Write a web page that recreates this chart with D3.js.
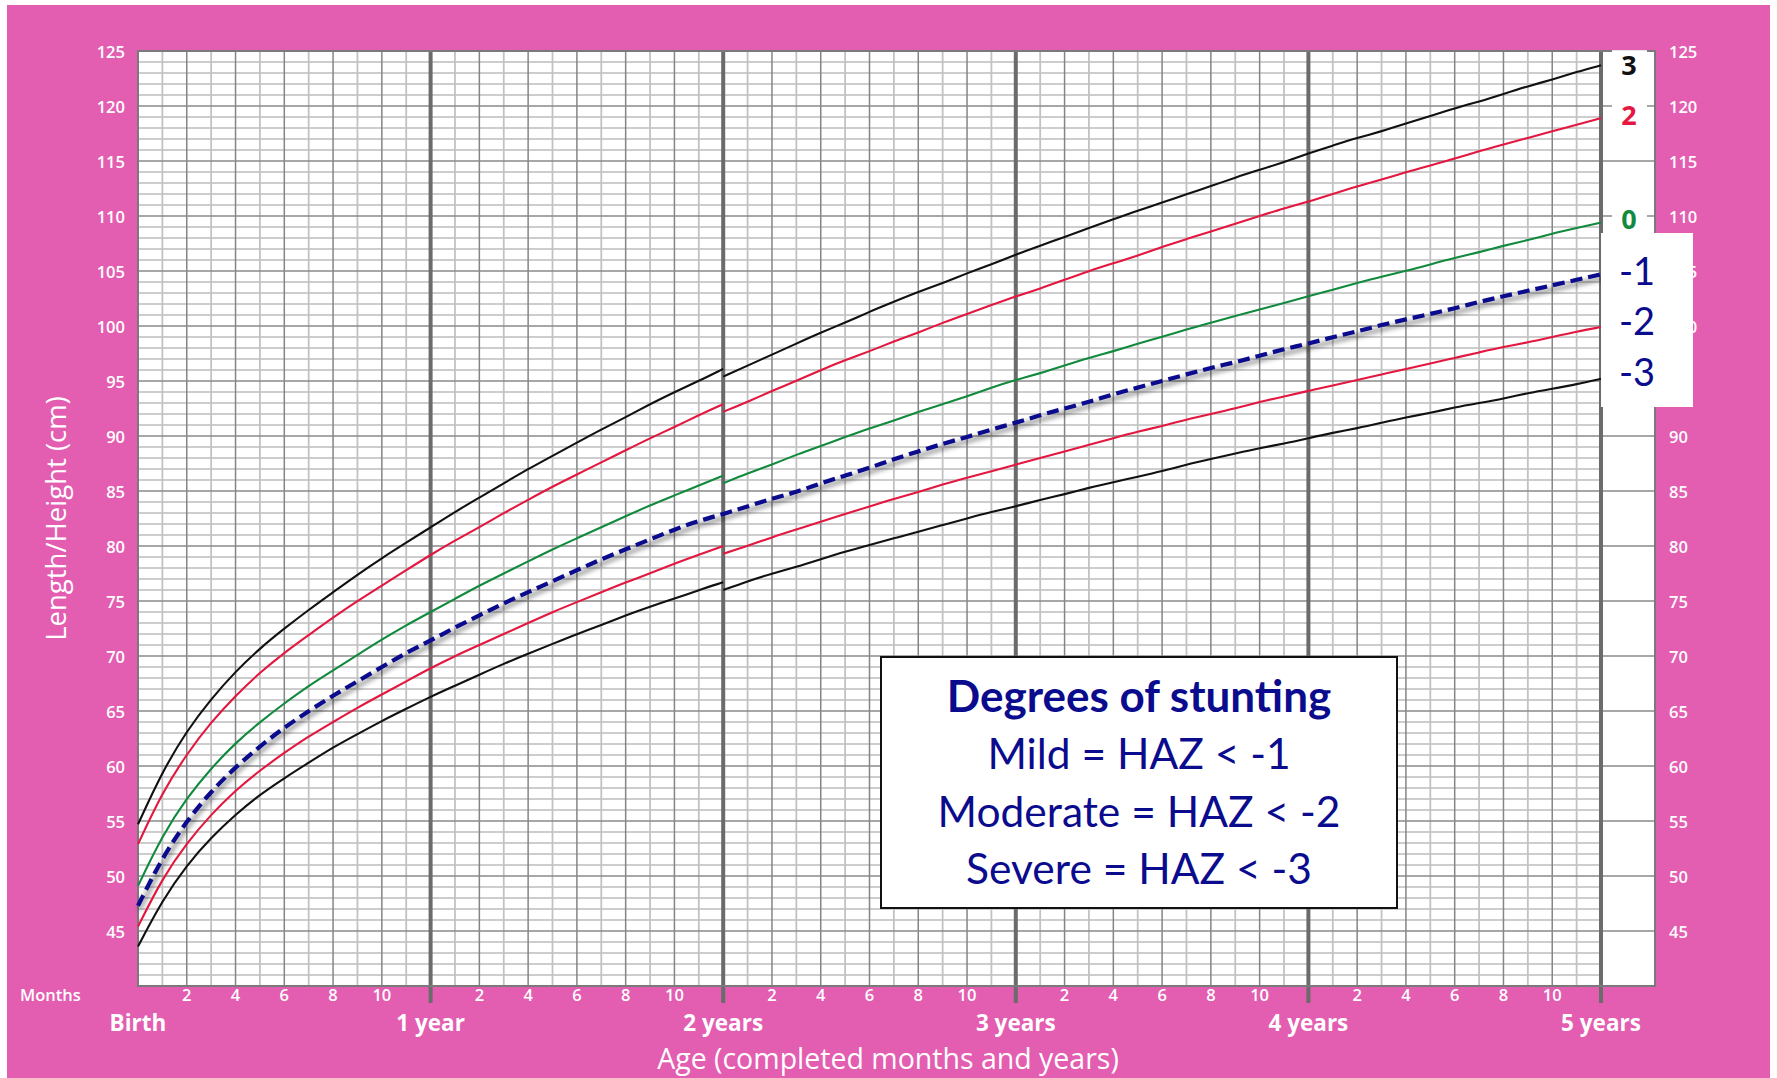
<!DOCTYPE html>
<html>
<head>
<meta charset="utf-8">
<script src="https://cdn.jsdelivr.net/npm/d3@7"></script>
<style>
  html, body { margin: 0; padding: 0; background: #ffffff; }
  svg { display: block; }
</style>
</head>
<body>
<svg id="chart" width="1777" height="1078"></svg>
<script>
// ---------------- DATA ----------------
const lengthAges = [0,1,2,3,4,5,6,7,8,9,10,11,12,13,14,15,16,17,18,19,20,21,22,23,24];
const heightAges = [24,25,26,27,28,29,30,31,32,33,34,35,36,37,38,39,40,41,42,43,44,45,46,47,48,49,50,51,52,53,54,55,56,57,58,59,60];

// length (0-24 months)
const lenSDm3 = [43.6,47.8,51.0,53.5,55.6,57.4,58.9,60.3,61.7,62.9,64.1,65.2,66.3,67.3,68.3,69.3,70.2,71.1,72.0,72.8,73.7,74.5,75.2,76.0,76.7];
const lenSDm2 = [45.4,49.8,53.0,55.6,57.8,59.6,61.2,62.7,64.0,65.3,66.5,67.7,68.9,70.0,71.0,72.0,73.0,74.0,74.9,75.8,76.7,77.5,78.4,79.2,80.0];
const lenSD0  = [49.1,53.7,57.1,59.8,62.1,64.0,65.7,67.3,68.7,70.1,71.5,72.8,74.0,75.2,76.4,77.5,78.6,79.7,80.7,81.7,82.7,83.7,84.6,85.5,86.4];
const lenSD2  = [52.9,57.6,61.1,64.0,66.4,68.5,70.3,71.9,73.5,75.0,76.4,77.8,79.2,80.5,81.7,83.0,84.2,85.4,86.5,87.6,88.7,89.8,90.8,91.9,92.9];
const lenSD3  = [54.7,59.5,63.2,66.1,68.6,70.7,72.5,74.2,75.8,77.4,78.9,80.3,81.7,83.1,84.4,85.7,87.0,88.2,89.4,90.6,91.7,92.9,94.0,95.0,96.1];

// height (24-60 months)
const htSDm3 = [76.0,76.8,77.5,78.1,78.8,79.5,80.1,80.7,81.3,81.9,82.5,83.1,83.6,84.2,84.7,85.3,85.8,86.3,86.8,87.4,87.9,88.4,88.9,89.3,89.8,90.3,90.7,91.2,91.7,92.1,92.6,93.0,93.4,93.9,94.3,94.7,95.2];
const htSDm2 = [79.3,80.0,80.8,81.5,82.2,82.9,83.6,84.3,84.9,85.6,86.2,86.8,87.4,88.0,88.6,89.2,89.8,90.4,90.9,91.5,92.0,92.5,93.1,93.6,94.1,94.6,95.1,95.6,96.1,96.6,97.1,97.6,98.1,98.5,99.0,99.5,99.9];
const htSD0  = [85.7,86.6,87.4,88.3,89.1,89.9,90.7,91.4,92.2,92.9,93.6,94.4,95.1,95.7,96.4,97.1,97.7,98.4,99.0,99.7,100.3,100.9,101.5,102.1,102.7,103.3,103.9,104.5,105.0,105.6,106.2,106.7,107.3,107.8,108.4,108.9,109.4];
const htSD2  = [92.2,93.1,94.1,95.0,96.0,96.9,97.7,98.6,99.4,100.3,101.1,101.9,102.7,103.4,104.2,105.0,105.7,106.4,107.2,107.9,108.6,109.3,110.0,110.7,111.3,112.0,112.7,113.3,114.0,114.6,115.2,115.9,116.5,117.1,117.7,118.3,118.9];
const htSD3  = [95.4,96.4,97.4,98.4,99.4,100.3,101.3,102.2,103.1,103.9,104.8,105.6,106.5,107.3,108.1,108.9,109.7,110.5,111.2,112.0,112.7,113.5,114.2,114.9,115.7,116.4,117.1,117.7,118.4,119.1,119.8,120.4,121.1,121.8,122.4,123.1,123.7];

// hand-drawn dashed -1 line (0-60 months, continuous across 2 years)
const dashAges = [0,1,2,3,4,5,6,7,8,9,10,11,12,13,14,15,16,17,18,19,20,21,22,23,24,25,26,27,28,29,30,31,32,33,34,35,36,37,38,39,40,41,42,43,44,45,46,47,48,49,50,51,52,53,54,55,56,57,58,59,60];
const dashSDm1 = [47.3,51.7,55.0,57.7,59.9,61.8,63.5,65.0,66.4,67.7,69.0,70.3,71.4,72.6,73.7,74.8,75.8,76.8,77.8,78.8,79.7,80.6,81.5,82.3,82.9,83.6,84.3,84.9,85.7,86.4,87.1,87.9,88.6,89.3,89.9,90.6,91.2,91.9,92.5,93.1,93.8,94.4,95.0,95.6,96.2,96.7,97.3,97.9,98.4,99.0,99.5,100.1,100.6,101.1,101.6,102.2,102.7,103.2,103.7,104.2,104.7];

const yTicks = [45,50,55,60,65,70,75,80,85,90,95,100,105,110,115,120,125];
const monthTicks = [2,4,6,8,10];
const yearAges = [0,12,24,36,48,60];
const yearLabels = ["Birth","1 year","2 years","3 years","4 years","5 years"];
const zLabelsTop = ["3","2","0"];
const zLabelsTopAt = [123.8, 119.2, 109.8];   // cm level where each label sits
const zLabelsBox = ["-1","-2","-3"];
const legendTitle = "Degrees of stunting";
const legendLines = ["Mild = HAZ < -1","Moderate = HAZ < -2","Severe = HAZ < -3"];
const xTitle = "Age (completed months and years)";
const yTitle = "Length/Height (cm)";

// ---------------- LAYOUT ----------------
const PINK = "#e35db1";
const NAVY = "#0b0b8e";
const RED = "#e3173f";
const GREEN = "#128a3e";
const AXISFONT = "'Open Sans', 'Noto Sans', sans-serif";
const BOXFONT = "Lato, 'Open Sans', sans-serif";

const svg = d3.select("#chart");
const x = d3.scaleLinear().domain([0, 60]).range([138, 1601]);
const y = d3.scaleLinear().domain([40, 125]).range([986, 51]);
const xRightEdge = 1655;

const defs = svg.append("defs");
defs.append("filter").attr("id", "blur").attr("x", "-5%").attr("y", "-5%").attr("width", "110%").attr("height", "110%")
  .append("feGaussianBlur").attr("stdDeviation", 2.2);

// background
svg.append("rect").attr("x", 7).attr("y", 5).attr("width", 1763).attr("height", 1073).attr("fill", PINK);
svg.append("rect").attr("x", x(0)).attr("y", y(125)).attr("width", xRightEdge - x(0)).attr("height", y(40) - y(125)).attr("fill", "#fff");

// grid
const cms = d3.range(41, 125);
const grid = svg.append("g");
grid.selectAll("line.hmin").data(cms.filter(c => c % 5 !== 0)).join("line")
  .attr("x1", x(0)).attr("x2", x(60)).attr("y1", d => y(d)).attr("y2", d => y(d))
  .attr("stroke", "#bdbdbd").attr("stroke-width", 1.6);
const months = d3.range(1, 60).filter(m => m % 12 !== 0);
grid.selectAll("line.vm").data(months).join("line")
  .attr("x1", d => x(d)).attr("x2", d => x(d)).attr("y1", y(125)).attr("y2", y(40))
  .attr("stroke", d => d % 2 === 0 ? "#858585" : "#c2c2c2").attr("stroke-width", d => d % 2 === 0 ? 1.5 : 1.8);
grid.selectAll("line.hmaj").data(cms.filter(c => c % 5 === 0)).join("line")
  .attr("x1", x(0)).attr("x2", xRightEdge).attr("y1", d => y(d)).attr("y2", d => y(d))
  .attr("stroke", "#8a8a8a").attr("stroke-width", 1.6);
grid.selectAll("line.yr").data(yearAges.slice(1)).join("line")
  .attr("x1", d => x(d)).attr("x2", d => x(d)).attr("y1", y(125)).attr("y2", y(40) + 17)
  .attr("stroke", "#6b6b6b").attr("stroke-width", 4);
svg.append("rect").attr("x", x(0)).attr("y", y(125)).attr("width", xRightEdge - x(0)).attr("height", y(40) - y(125))
  .attr("fill", "none").attr("stroke", "#7a7a7a").attr("stroke-width", 2);

// curves
const line = d3.line().x(d => x(d[0])).y(d => y(d[1])).curve(d3.curveBasis);
const zip = (a, b) => a.map((v, i) => [v, b[i]]);
const solid = [
  {len: lenSD3, ht: htSD3, color: "#111"},
  {len: lenSD2, ht: htSD2, color: RED},
  {len: lenSD0, ht: htSD0, color: GREEN},
  {len: lenSDm2, ht: htSDm2, color: RED},
  {len: lenSDm3, ht: htSDm3, color: "#111"}
];
const curves = svg.append("g").attr("fill", "none").attr("stroke-width", 2.1);
solid.forEach(s => {
  curves.append("path").attr("d", line(zip(lengthAges, s.len))).attr("stroke", s.color);
  curves.append("path").attr("d", line(zip(heightAges, s.ht))).attr("stroke", s.color);
});
const dashData = zip(dashAges, dashSDm1);
svg.append("path").attr("d", line(dashData)).attr("fill", "none")
  .attr("stroke", "#000").attr("stroke-opacity", 0.32).attr("stroke-width", 5)
  .attr("transform", "translate(1.5,4)").attr("filter", "url(#blur)");
svg.append("path").attr("d", line(dashData)).attr("fill", "none")
  .attr("stroke", NAVY).attr("stroke-width", 4.2).attr("stroke-dasharray", "12,6");

// y tick labels
const tickStyle = sel => sel.attr("fill", "#fff").attr("font-family", AXISFONT).attr("font-weight", 600).attr("font-size", 16.5).attr("dominant-baseline", "central");
svg.append("g").selectAll("text").data(yTicks).join("text")
  .attr("x", 125).attr("y", d => y(d)).attr("text-anchor", "end").text(d => d).call(tickStyle);
svg.append("g").selectAll("text").data(yTicks).join("text")
  .attr("x", 1669).attr("y", d => y(d)).attr("text-anchor", "start").text(d => d).call(tickStyle);

// month labels
svg.append("text").attr("x", 20).attr("y", 994).attr("text-anchor", "start").text("Months").call(tickStyle);
const monthLabelData = [];
yearAges.slice(0, 5).forEach(a => monthTicks.forEach(m => monthLabelData.push({age: a + m, label: m})));
svg.append("g").selectAll("text").data(monthLabelData).join("text")
  .attr("x", d => x(d.age)).attr("y", 994).attr("text-anchor", "middle").text(d => d.label).call(tickStyle);

// year labels
svg.append("g").selectAll("text").data(yearAges).join("text")
  .attr("x", d => x(d)).attr("y", 1022).attr("text-anchor", "middle").attr("dominant-baseline", "central")
  .attr("fill", "#fff").attr("font-family", AXISFONT).attr("font-weight", 700).attr("font-size", 22.5)
  .text((d, i) => yearLabels[i]);

// axis titles
svg.append("text").attr("x", 888).attr("y", 1069).attr("text-anchor", "middle")
  .attr("fill", "#fff").attr("font-family", AXISFONT).attr("font-size", 28.5).text(xTitle);
svg.append("text").attr("transform", `translate(55,${(y(40) + y(125)) / 2}) rotate(-90)`)
  .attr("text-anchor", "middle").attr("dominant-baseline", "central")
  .attr("fill", "#fff").attr("font-family", AXISFONT).attr("font-size", 27.5).text(yTitle);

// z labels at right (3, 2, 0)
const topColors = ["#111", RED, GREEN];
const zg = svg.append("g");
zLabelsTop.forEach((lab, i) => {
  const cy = y(zLabelsTopAt[i]);
  zg.append("rect").attr("x", 1612).attr("y", cy - 14).attr("width", 35).attr("height", 28).attr("fill", "#fff");
  zg.append("text").attr("x", 1629).attr("y", cy).attr("text-anchor", "middle").attr("dominant-baseline", "central")
    .attr("fill", topColors[i]).attr("font-family", AXISFONT).attr("font-weight", 700).attr("font-size", 27).text(lab);
});

// -1 -2 -3 box
const bx = svg.append("g");
bx.append("rect").attr("x", 1601).attr("y", 233).attr("width", 92).attr("height", 174).attr("fill", "#fff");
bx.selectAll("text").data(zLabelsBox).join("text")
  .attr("x", 1619).attr("y", (d, i) => [270, 320, 371][i])
  .attr("dominant-baseline", "central").attr("fill", NAVY)
  .attr("font-family", BOXFONT).attr("font-size", 38).text(d => d);

// legend box
const lg = svg.append("g");
lg.append("rect").attr("x", 881).attr("y", 657).attr("width", 516).attr("height", 251)
  .attr("fill", "#fff").attr("stroke", "#111").attr("stroke-width", 2);
lg.append("text").attr("x", 1139).attr("y", 712).attr("text-anchor", "middle")
  .attr("fill", NAVY).attr("font-family", BOXFONT).attr("font-weight", 700).attr("font-size", 44).text(legendTitle);
lg.selectAll("text.l").data(legendLines).join("text").attr("class", "l")
  .attr("x", 1139).attr("y", (d, i) => [769, 827, 884][i]).attr("text-anchor", "middle")
  .attr("fill", NAVY).attr("font-family", BOXFONT).attr("font-size", 42.5).text(d => d);
</script>
</body>
</html>
